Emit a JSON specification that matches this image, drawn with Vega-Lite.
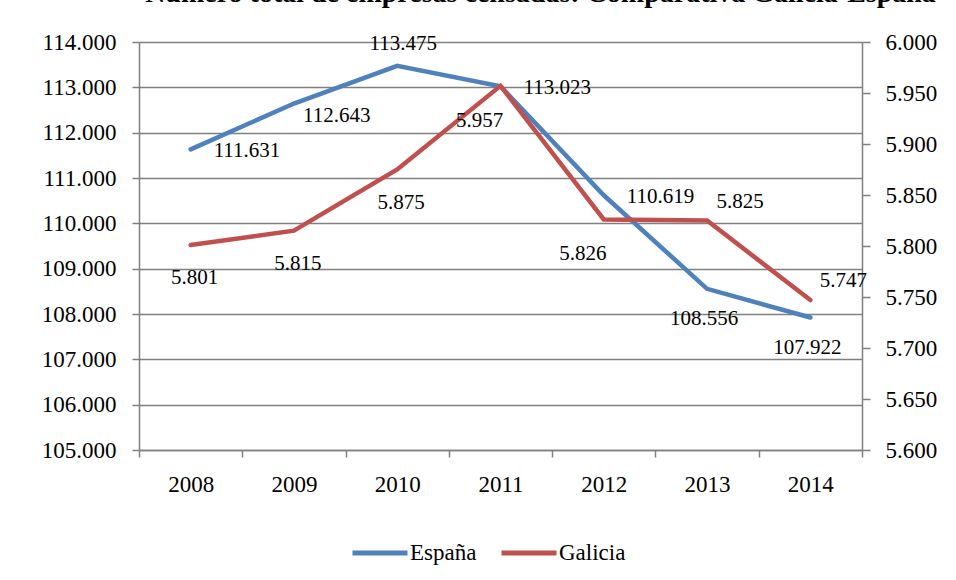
{
  "$schema": "https://vega.github.io/schema/vega-lite/v6.json",
  "width": 723,
  "height": 408,
  "autosize": {"type": "none"},
  "padding": {"left": 139, "top": 42, "right": 94, "bottom": 130},
  "background": "white",
  "title": {
    "text": "Número total de empresas censadas: Comparativa Galicia-España",
    "font": "Liberation Serif",
    "fontSize": 28,
    "fontWeight": "bold",
    "anchor": "middle",
    "dx": 40,
    "offset": 23,
    "color": "#000"
  },
  "data": {
    "values": [
      {"anio": 2008, "serie": "España", "valor": 111631, "pos": "right"},
      {"anio": 2009, "serie": "España", "valor": 112643, "pos": "belowright"},
      {"anio": 2010, "serie": "España", "valor": 113475, "pos": "above"},
      {"anio": 2011, "serie": "España", "valor": 113023, "pos": "right"},
      {"anio": 2012, "serie": "España", "valor": 110619, "pos": "right"},
      {"anio": 2013, "serie": "España", "valor": 108556, "pos": "below"},
      {"anio": 2014, "serie": "España", "valor": 107922, "pos": "below"},
      {"anio": 2008, "serie": "Galicia", "valor": 5801, "pos": "below"},
      {"anio": 2009, "serie": "Galicia", "valor": 5815, "pos": "below"},
      {"anio": 2010, "serie": "Galicia", "valor": 5875, "pos": "below"},
      {"anio": 2011, "serie": "Galicia", "valor": 5957, "pos": "belowleft"},
      {"anio": 2012, "serie": "Galicia", "valor": 5826, "pos": "belowleft"},
      {"anio": 2013, "serie": "Galicia", "valor": 5825, "pos": "aboveright"},
      {"anio": 2014, "serie": "Galicia", "valor": 5747, "pos": "aboveright"}
    ]
  },
  "layer": [
    {
      "transform": [{"filter": "datum.serie === 'España'"}],
      "encoding": {
        "x": {
          "field": "anio",
          "type": "quantitative",
          "scale": {"domain": [2007.5, 2014.5], "nice": false, "zero": false},
          "axis": {
            "orient": "bottom",
            "values": [2008, 2009, 2010, 2011, 2012, 2013, 2014],
            "format": "d",
            "ticks": false,
            "grid": false,
            "labelPadding": 23,
            "title": null
          }
        },
        "y": {
          "field": "valor",
          "type": "quantitative",
          "scale": {"domain": [105000, 114000], "nice": false, "zero": false},
          "axis": {
            "orient": "left",
            "values": [105000, 106000, 107000, 108000, 109000, 110000, 111000, 112000, 113000, 114000],
            "format": ",d",
            "grid": true,
            "tickSize": 7,
            "labelPadding": 16,
            "title": null
          }
        }
      },
      "layer": [
        {
          "mark": {"type": "line", "strokeWidth": 4.5, "strokeCap": "round"},
          "encoding": {
            "color": {
              "field": "serie",
              "type": "nominal",
              "scale": {"domain": ["España", "Galicia"], "range": ["#4F81BD", "#C0504D"]},
              "legend": {
                "orient": "none",
                "legendX": 211,
                "legendY": 481,
                "direction": "horizontal",
                "title": null,
                "symbolType": "stroke",
                "symbolStrokeWidth": 5,
                "symbolSize": 3025,
                "labelFont": "Liberation Serif",
                "labelFontSize": 23,
                "labelColor": "#000",
                "labelOffset": 0,
                "columnPadding": 14,
                "padding": 0
              }
            }
          }
        },
        {
          "transform": [{"filter": "datum.pos === 'right'"}],
          "mark": {"type": "text", "align": "left", "baseline": "middle", "dx": 23, "dy": 2},
          "encoding": {"text": {"field": "valor", "type": "quantitative", "format": ",d"}}
        },
        {
          "transform": [{"filter": "datum.pos === 'belowright'"}],
          "mark": {"type": "text", "align": "left", "baseline": "middle", "dx": 9, "dy": 12},
          "encoding": {"text": {"field": "valor", "type": "quantitative", "format": ",d"}}
        },
        {
          "transform": [{"filter": "datum.pos === 'above'"}],
          "mark": {"type": "text", "align": "center", "baseline": "middle", "dx": 6, "dy": -22},
          "encoding": {"text": {"field": "valor", "type": "quantitative", "format": ",d"}}
        },
        {
          "transform": [{"filter": "datum.pos === 'below'"}],
          "mark": {"type": "text", "align": "center", "baseline": "middle", "dx": -3, "dy": 30},
          "encoding": {"text": {"field": "valor", "type": "quantitative", "format": ",d"}}
        }
      ]
    },
    {
      "transform": [{"filter": "datum.serie === 'Galicia'"}],
      "encoding": {
        "x": {
          "field": "anio",
          "type": "quantitative",
          "scale": {"domain": [2007.5, 2014.5], "nice": false, "zero": false},
          "axis": {
            "orient": "bottom",
            "values": [2007.5, 2008.5, 2009.5, 2010.5, 2011.5, 2012.5, 2013.5, 2014.5],
            "labels": false,
            "ticks": true,
            "tickSize": 7,
            "domain": false,
            "grid": false,
            "title": null
          }
        },
        "y": {
          "field": "valor",
          "type": "quantitative",
          "scale": {"domain": [5600, 6000], "nice": false, "zero": false},
          "axis": {
            "orient": "right",
            "values": [5600, 5650, 5700, 5750, 5800, 5850, 5900, 5950, 6000],
            "format": ",d",
            "grid": false,
            "tickSize": 8,
            "labelPadding": 15,
            "title": null
          }
        }
      },
      "layer": [
        {
          "mark": {"type": "line", "strokeWidth": 4.5, "strokeCap": "round"},
          "encoding": {
            "color": {"field": "serie", "type": "nominal"}
          }
        },
        {
          "transform": [{"filter": "datum.pos === 'below'"}],
          "mark": {"type": "text", "align": "center", "baseline": "middle", "dx": 4, "dy": 33},
          "encoding": {"text": {"field": "valor", "type": "quantitative", "format": ",d"}}
        },
        {
          "transform": [{"filter": "datum.pos === 'belowleft'"}],
          "mark": {"type": "text", "align": "center", "baseline": "middle", "dx": -21, "dy": 35},
          "encoding": {"text": {"field": "valor", "type": "quantitative", "format": ",d"}}
        },
        {
          "transform": [{"filter": "datum.pos === 'aboveright'"}],
          "mark": {"type": "text", "align": "center", "baseline": "middle", "dx": 33, "dy": -19},
          "encoding": {"text": {"field": "valor", "type": "quantitative", "format": ",d"}}
        }
      ]
    }
  ],
  "resolve": {"scale": {"y": "independent"}, "axis": {"x": "independent"}},
  "config": {
    "locale": {"number": {"decimal": ",", "thousands": ".", "grouping": [3], "currency": ["", " €"]}},
    "font": "Liberation Serif",
    "view": {"stroke": null},
    "axis": {
      "labelFont": "Liberation Serif",
      "labelFontSize": 23,
      "labelColor": "#000",
      "domainColor": "#808080",
      "domainWidth": 1.5,
      "tickColor": "#808080",
      "tickWidth": 1.5,
      "gridColor": "#808080",
      "gridWidth": 1.5,
      "gridOpacity": 1
    },
    "text": {"font": "Liberation Serif", "fontSize": 21, "fill": "#000"}
  }
}
